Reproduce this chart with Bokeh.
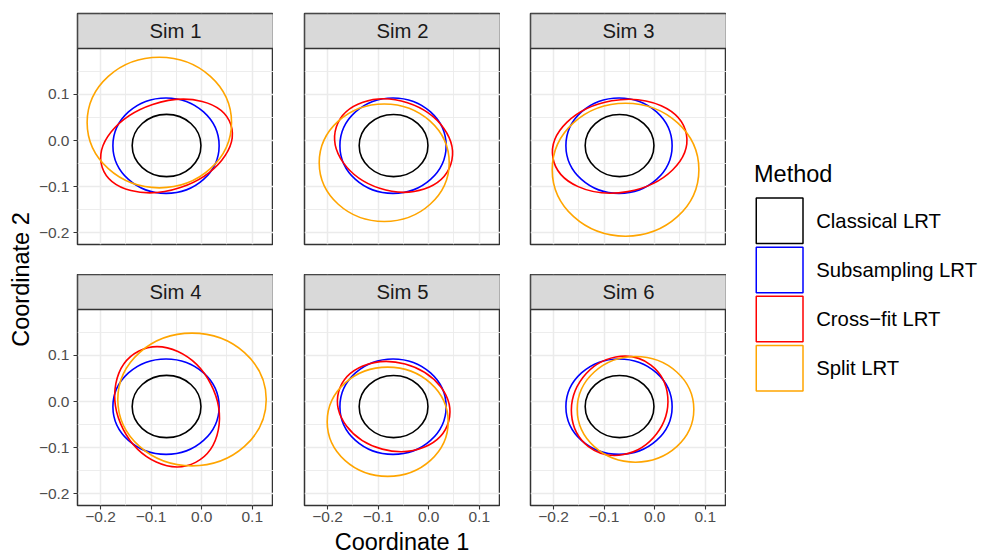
from bokeh.plotting import figure
from bokeh.layouts import row, column
from bokeh.models import Range1d, LinearAxis, FixedTicker, Grid, BoxAnnotation, Label
from bokeh.core.properties import value
from bokeh.embed import file_html
from bokeh.resources import INLINE

# ---------------- data ----------------
sims = ["Sim 1", "Sim 2", "Sim 3", "Sim 4", "Sim 5", "Sim 6"]
methods = ["Classical LRT", "Subsampling LRT", "Cross\u2212fit LRT", "Split LRT"]
method_colors = ["#000000", "#0000FF", "#FF0000", "#FFA500"]

# confidence regions: centre (x, y), full width, full height, rotation (deg)
classical_x = [-0.0694, -0.0694, -0.0694, -0.0694, -0.0694, -0.0694]
classical_y = [-0.0109, -0.0109, -0.0109, -0.0109, -0.0109, -0.0109]
classical_w = [0.136, 0.136, 0.136, 0.136, 0.136, 0.136]
classical_h = [0.135, 0.135, 0.135, 0.135, 0.135, 0.135]
classical_a = [0, 0, 0, 0, 0, 0]

subsampling_x = [-0.0705, -0.0705, -0.0705, -0.0705, -0.0705, -0.0705]
subsampling_y = [-0.0112, -0.0112, -0.0112, -0.0112, -0.0112, -0.0112]
subsampling_w = [0.210, 0.210, 0.210, 0.210, 0.210, 0.210]
subsampling_h = [0.207, 0.207, 0.207, 0.207, 0.207, 0.207]
subsampling_a = [0, 0, 0, 0, 0, 0]

crossfit_x = [-0.0695, -0.0694, -0.0692, -0.0684, -0.0692, -0.0692]
crossfit_y = [-0.0119, -0.0110, -0.0124, -0.0115, -0.0109, -0.0093]
crossfit_w = [0.268, 0.238, 0.268, 0.247, 0.2253, 0.203]
crossfit_h = [0.190, 0.195, 0.200, 0.214, 0.1913, 0.2013]
crossfit_a = [18.5, -18.0, 10.0, -62.8, -15.0, 52.5]

split_x = [-0.0837, -0.0879, -0.0576, -0.0191, -0.0810, -0.0379]
split_y = [0.0390, -0.0482, -0.0633, 0.0043, -0.0440, -0.0170]
split_w = [0.2855, 0.257, 0.290, 0.2935, 0.2393, 0.2306]
split_h = [0.2833, 0.255, 0.2885, 0.288, 0.237, 0.2293]
split_a = [0, 0, 0, 0, 0, 0]

region_x = [classical_x, subsampling_x, crossfit_x, split_x]
region_y = [classical_y, subsampling_y, crossfit_y, split_y]
region_w = [classical_w, subsampling_w, crossfit_w, split_w]
region_h = [classical_h, subsampling_h, crossfit_h, split_h]
region_a = [classical_a, subsampling_a, crossfit_a, split_a]

x_major = [-0.2, -0.1, 0, 0.1]
x_minor = [-0.15, -0.05, 0.05]
y_major = [-0.2, -0.1, 0, 0.1]
y_minor = [-0.15, -0.05, 0.05, 0.15]
tick_labels = ["\u22120.2", "\u22120.1", "0.0", "0.1"]

x_title = "Coordinate 1"
y_title = "Coordinate 2"
legend_title = "Method"

# ---------------- layout constants ----------------
FONT = "Liberation Sans"
X_LO, X_HI = -0.2455, 0.142
Y_LO, Y_HI = -0.2256, 0.1996
PANEL = 196
STRIP = 35
DY = (Y_HI - Y_LO) / PANEL
Y_TOP = Y_HI + STRIP * DY
BORDER = "#333333"

left_borders = [43, 31, 30]


def make_panel(i):
    r, c = divmod(i, 3)
    lb = left_borders[c]
    if r == 0:
        h, tb, bb = 274, 13, 30
    else:
        h, tb, bb = 254, 0, 23
    p = figure(width=lb + PANEL, height=h,
               x_range=Range1d(X_LO, X_HI), y_range=Range1d(Y_LO, Y_TOP),
               x_axis_location=None, y_axis_location=None,
               output_backend="svg", toolbar_location=None,
               min_border=0, min_border_left=lb, min_border_right=0,
               min_border_top=tb, min_border_bottom=bb,
               background_fill_color="white", border_fill_color="white",
               outline_line_color=BORDER, outline_line_width=1.5)
    gx = Grid(dimension=0, ticker=FixedTicker(ticks=x_major, minor_ticks=x_minor),
              grid_line_color="#EBEBEB", grid_line_width=1.5,
              minor_grid_line_color="#EBEBEB", minor_grid_line_width=0.9)
    gy = Grid(dimension=1, ticker=FixedTicker(ticks=y_major, minor_ticks=y_minor),
              grid_line_color="#EBEBEB", grid_line_width=1.5,
              minor_grid_line_color="#EBEBEB", minor_grid_line_width=0.9)
    p.center = [gx, gy]

    if c == 0:
        yax = LinearAxis(ticker=FixedTicker(ticks=y_major),
                         major_label_overrides=dict(zip(y_major, tick_labels)),
                         axis_line_color=None, major_tick_in=0, major_tick_out=4,
                         major_tick_line_color=BORDER, major_tick_line_width=1.1,
                         minor_tick_line_color=None,
                         major_label_text_font=FONT, major_label_text_font_size="15.5px",
                         major_label_text_color="#4D4D4D", major_label_standoff=4)
        p.add_layout(yax, "left")
    if r == 1:
        xax = LinearAxis(ticker=FixedTicker(ticks=x_major),
                         major_label_overrides=dict(zip(x_major, tick_labels)),
                         axis_line_color=None, major_tick_in=0, major_tick_out=4,
                         major_tick_line_color=BORDER, major_tick_line_width=1.1,
                         minor_tick_line_color=None,
                         major_label_text_font=FONT, major_label_text_font_size="15.5px",
                         major_label_text_color="#4D4D4D", major_label_standoff=2)
        p.add_layout(xax, "below")

    for k in range(len(methods)):
        p.ellipse(x=region_x[k][i], y=region_y[k][i],
                  width=region_w[k][i], height=region_h[k][i],
                  angle=region_a[k][i], angle_units="deg",
                  fill_color=None, line_color=method_colors[k], line_width=1.6)

    strip = BoxAnnotation(bottom=Y_HI, fill_color="#D9D9D9", fill_alpha=1.0,
                          line_color=BORDER, line_width=1.5, line_alpha=1.0)
    p.add_layout(strip)
    p.add_layout(Label(x=(X_LO + X_HI) / 2, y=(Y_HI + Y_TOP) / 2, text=sims[i],
                       text_align="center", text_baseline="middle",
                       text_font=FONT, text_font_size="20.3px", text_color="#1A1A1A"))
    return p


panels = [make_panel(i) for i in range(6)]


def blank(w, h):
    f = figure(width=w, height=h, x_range=Range1d(0, w), y_range=Range1d(h, 0),
               x_axis_location=None, y_axis_location=None, output_backend="svg",
               toolbar_location=None, min_border=0, outline_line_color=None,
               background_fill_color="white", border_fill_color="white")
    f.grid.visible = False
    return f


# y-axis title (full height strip at left)
ylab = blank(34, 555)
ylab.text(x=[20.5], y=[279], text=[y_title], angle=90, angle_units="deg",
          text_align="center", text_baseline="middle",
          text_font=value(FONT), text_font_size=value("23.5px"), text_color="black")

# x-axis title (below the panel rows)
xlab = blank(692, 27)
xlab.text(x=[367.5], y=[13.7], text=[x_title], text_align="center", text_baseline="middle",
          text_font=value(FONT), text_font_size=value("23.5px"), text_color="black")

# legend
leg = blank(256, 555)
KEY_TOP0, KEY_PITCH, KEY_H = 197.45, 49.2, 45.5
key_tops = [KEY_TOP0 + KEY_PITCH * j for j in range(len(methods))]
key_bottoms = [t + KEY_H for t in key_tops]
key_mid = [t + KEY_H / 2 for t in key_tops]
leg.quad(left=29.75, right=76.5, top=key_tops, bottom=key_bottoms,
         fill_color=None, line_color=method_colors, line_width=1.5)
leg.text(x=89.7, y=key_mid, text=methods, text_align="left", text_baseline="middle",
         text_font=value(FONT), text_font_size=value("20.3px"), text_color="black")
leg.text(x=[27.5], y=[173.5], text=[legend_title], text_align="left", text_baseline="middle",
         text_font=value(FONT), text_font_size=value("23.5px"), text_color="black")

layout = row(ylab,
             column(row(*panels[:3]), row(*panels[3:]), xlab),
             leg)

open("out.html", "w").write(file_html(layout, INLINE))
